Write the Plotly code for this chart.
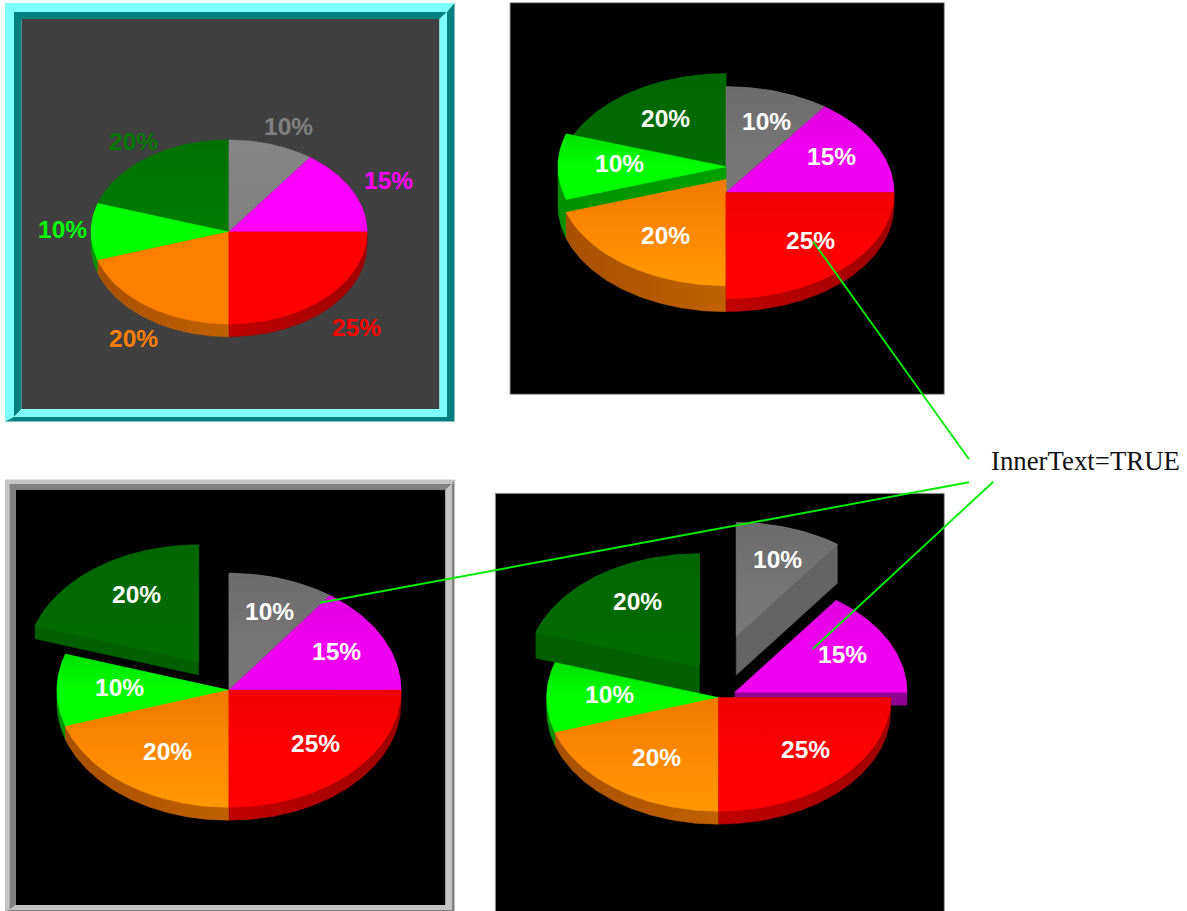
import numpy as np
import plotly.graph_objects as go

# Slice shares, clockwise from three o'clock
SLICE_SHARES = [25, 20, 10, 20, 10, 15]

# Extrusion level of each slice, in units of the base thickness
LEVELS_FLAT = [1, 1, 1, 1, 1, 1]
LEVELS_STEPPED = [1, 2, 3, 2, 1, 1]
LEVELS_MIXED = [1, 1, 1, 2, 3, 1]

# Outward offset of each slice, as a fraction of the radius
EXPLODE_NONE = [0, 0, 0, 0, 0, 0]
EXPLODE_ONE = [0, 0, 0, 0.3, 0, 0]
EXPLODE_THREE = [0, 0, 0, 0.19, 0.33, 0.106]

CANVAS_W, CANVAS_H = 1187, 911

# Styling per slice: red, orange, lime, dark green, grey, magenta
OUTER_TEXT_COLORS = ["#FF0000", "#FF8000", "#00FF00", "#007800", "#808080", "#FF00FF"]
FLAT_TOPS = [("#FF0000", "#FF0000", "#FF0000"), ("#FF8000", "#FF8000", "#FF8000"),
             ("#00FF00", "#00FF00", "#00FF00"), ("#007000", "#007800", "#007C00"),
             ("#868686", "#828282", "#808080"), ("#FF00FF", "#FF00FF", "#FF00FF")]
SHADED_TOPS = [("#F00000", "#FF0000", "#FF0000"), ("#F07800", "#FF8800", "#FF9800"),
               ("#00E000", "#00FF00", "#00FF00"), ("#006600", "#006A00", "#006C00"),
               ("#6C6C6C", "#747474", "#787878"), ("#E000E0", "#F000F0", "#F000F0")]
SIDES = [("#C00000", "#A00000"), ("#A85000", "#C06000"), ("#009000", "#00A000"),
         ("#006000", "#006000"), ("#646464", "#646464"), ("#900090", "#900090")]

BACK_TO_FRONT = [3, 4, 5, 2, 1, 0]

CHARTS = [
    dict(cx=229, cy=232, rx=138, ry=92, depth=12.7, levels=LEVELS_FLAT, explode=EXPLODE_NONE,
         tops=FLAT_TOPS, outer_text=True),
    dict(cx=726, cy=192.7, rx=168, ry=106, depth=13, levels=LEVELS_STEPPED, explode=EXPLODE_NONE,
         tops=SHADED_TOPS, outer_text=False),
    dict(cx=229, cy=690.3, rx=172, ry=117, depth=13, levels=LEVELS_FLAT, explode=EXPLODE_ONE,
         tops=SHADED_TOPS, outer_text=False),
    dict(cx=718.7, cy=697.7, rx=172, ry=113.5, depth=13, levels=LEVELS_MIXED, explode=EXPLODE_THREE,
         tops=SHADED_TOPS, outer_text=False),
]

LEADERS = [
    ((813.3, 241.7), (969, 459.3)),
    ((320, 602.7), (969, 482.3)),
    ((812.7, 649), (993.3, 481.7)),
]


def convex_hull(points):
    pts = sorted(set(points))

    def half(seq):
        out = []
        for p in seq:
            while len(out) >= 2 and (
                (out[-1][0] - out[-2][0]) * (p[1] - out[-2][1])
                - (out[-1][1] - out[-2][1]) * (p[0] - out[-2][0])
            ) <= 0:
                out.pop()
            out.append(p)
        return out

    lower, upper = half(pts), half(pts[::-1])
    return lower[:-1] + upper[:-1]


def polygon_trace(xs, ys, colors, orientation):
    start, stop = (min(xs), max(xs)) if orientation == "horizontal" else (min(ys), max(ys))
    stops = np.linspace(0, 1, len(colors))
    return go.Scatter(
        x=list(xs) + [xs[0]], y=list(ys) + [ys[0]], mode="lines", fill="toself",
        line=dict(color=colors[-1], width=0.5), hoverinfo="skip",
        fillgradient=dict(type=orientation,
                          colorscale=[[float(s), c] for s, c in zip(stops, colors)],
                          start=start, stop=stop),
    )


def draw_pie(fig, annotations, chart):
    total = sum(SLICE_SHARES)
    edges = np.cumsum([0] + SLICE_SHARES) / total * 360.0
    for i in BACK_TO_FRONT:
        a0, a1 = edges[i], edges[i + 1]
        mid = np.radians((a0 + a1) / 2)
        lift = (chart["levels"][i] - 1) * chart["depth"]
        height = chart["levels"][i] * chart["depth"]
        ox = chart["cx"] + chart["explode"][i] * chart["rx"] * np.cos(mid)
        oy = chart["cy"] + chart["explode"][i] * chart["ry"] * np.sin(mid) - lift

        theta = np.radians(np.linspace(a0, a1, int(a1 - a0) + 2))
        xs = [float(ox)] + list(ox + chart["rx"] * np.cos(theta))
        ys = [float(oy)] + list(oy + chart["ry"] * np.sin(theta))

        solid = [(float(x), float(y)) for x, y in zip(xs, ys)]
        solid += [(x, y + height) for x, y in solid]
        hull = convex_hull(solid)
        fig.add_trace(polygon_trace([p[0] for p in hull], [p[1] for p in hull], SIDES[i], "horizontal"))
        fig.add_trace(polygon_trace(xs, ys, chart["tops"][i], "vertical"))

        # Percent label for this slice
        if chart["outer_text"]:
            tx = ox + 1.25 * chart["rx"] * np.cos(mid) + 6
            ty = oy + 1.17 * chart["ry"] * np.sin(mid) - 3
            if np.sin(mid) > 0.01:
                ty += 22
            color = OUTER_TEXT_COLORS[i]
        else:
            tx = ox + 2 / 3 * chart["rx"] * np.cos(mid) + 5.5
            ty = oy + 0.68 * chart["ry"] * np.sin(mid) - 3
            color = "#FFFFFF"
        annotations.append(dict(
            x=float(tx), y=float(ty), text=f"{SLICE_SHARES[i]}%", showarrow=False,
            xanchor="center", yanchor="middle", xref="x", yref="y",
            font=dict(family="Liberation Sans", size=24.5, color=color, weight="bold"),
        ))


def polygon_shape(points, color):
    path = "M " + " L ".join(f"{x},{y}" for x, y in points) + " Z"
    return dict(type="path", path=path, fillcolor=color, line=dict(width=0), layer="below",
                xref="x", yref="y")


def bevel(outer, middle, inner, light, dark):
    def bands(a, b, tl_color, br_color):
        return [
            polygon_shape([(a[0], a[3]), (a[0], a[1]), (a[2], a[1]), (b[2], b[1]), (b[0], b[1]), (b[0], b[3])], tl_color),
            polygon_shape([(a[2], a[1]), (a[2], a[3]), (a[0], a[3]), (b[0], b[3]), (b[2], b[3]), (b[2], b[1])], br_color),
        ]
    return bands(outer, middle, light, dark) + bands(middle, inner, dark, light)


def panel(box, fill, line=None):
    return dict(type="rect", x0=box[0], y0=box[1], x1=box[2], y1=box[3], fillcolor=fill,
                line=dict(width=1 if line else 0, color=line or fill), layer="below",
                xref="x", yref="y")


fig = go.Figure()
annotations = []
for chart in CHARTS:
    draw_pie(fig, annotations, chart)

shapes = []
# Cyan bevelled panel, top left
shapes.append(panel((21.5, 19, 439.5, 409), "#404040"))
shapes += bevel((5, 3, 454.5, 421.5), (14, 12, 447, 417), (21.5, 19, 439.5, 409), "#80FFFF", "#008080")
# Plain panel, top right
shapes.append(panel((510, 2.7, 944.3, 394.3), "#000000", "#A0A0A0"))
# Grey bevelled panel, bottom left
shapes.append(panel((16, 490, 445.5, 905), "#000000"))
shapes += bevel((5, 479.5, 454.5, 911), (9.5, 484, 452, 910), (16, 490, 445.5, 905), "#C4C4C4", "#808080")
# Plain panel, bottom right
shapes.append(panel((495.3, 493.3, 944.3, 915), "#000000", "#A0A0A0"))

for (x0, y0), (x1, y1) in LEADERS:
    shapes.append(dict(type="line", x0=x0, y0=y0, x1=x1, y1=y1, xref="x", yref="y", layer="above",
                       line=dict(color="#00EE00", width=1.9)))

annotations.append(dict(
    x=989, y=461, text="InnerText=TRUE", showarrow=False, xanchor="left", yanchor="middle",
    xref="x", yref="y", font=dict(family="Liberation Serif", size=26.8, color="#111111"),
))

fig.update_layout(
    width=CANVAS_W, height=CANVAS_H, margin=dict(l=0, r=0, t=0, b=0, pad=0),
    paper_bgcolor="#FFFFFF", plot_bgcolor="#FFFFFF", showlegend=False,
    shapes=shapes, annotations=annotations, hovermode=False,
    xaxis=dict(range=[0, CANVAS_W], visible=False, fixedrange=True),
    yaxis=dict(range=[CANVAS_H, 0], visible=False, fixedrange=True),
)

fig.write_html("out.html", config=dict(displayModeBar=False))
